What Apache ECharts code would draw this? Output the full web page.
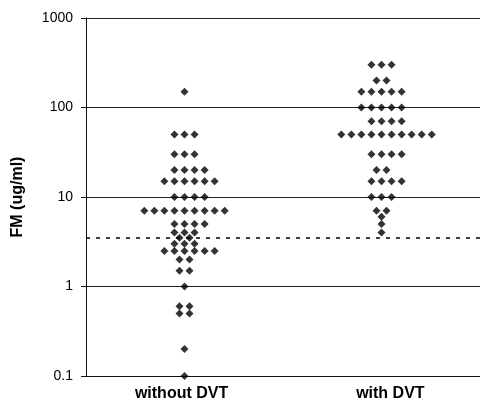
<!DOCTYPE html>
<html>
<head>
<meta charset="utf-8">
<script src="https://cdn.jsdelivr.net/npm/echarts@6/dist/echarts.min.js"></script>
<style>
html,body{margin:0;padding:0;background:#fff;}
#chart{width:480px;height:412px;}
</style>
</head>
<body>
<div id="chart"></div>
<script>
var categories = ['without DVT', 'with DVT'];
var yTicks = [0.1, 1, 10, 100, 1000];
var cutoff = 3.5;
// each row: value and number of dots at that value
var withoutValues = [150, 50, 30, 20, 15, 10, 7, 5, 4, 3.5, 3, 2.5, 2, 1.5, 1, 0.6, 0.5, 0.2, 0.1];
var withoutCounts = [1, 3, 3, 4, 6, 4, 9, 4, 3, 2, 3, 6, 2, 2, 1, 2, 2, 1, 1];
var withValues = [300, 200, 150, 100, 70, 50, 30, 20, 15, 10, 7, 6, 5, 4];
var withCounts = [3, 2, 5, 5, 4, 10, 4, 2, 4, 3, 2, 1, 1, 1];

var dx = 0.102;
function buildPoints(center, values, counts) {
  var pts = [];
  for (var i = 0; i < values.length; i++) {
    var n = counts[i];
    var start = (n === 2) ? -0.5 : -Math.floor((n - 1) / 2);
    for (var k = 0; k < n; k++) {
      pts.push([center + (start + k) * dx, values[i]]);
    }
  }
  return pts;
}

var labelPos = [0.97, 3.09];
var chart = echarts.init(document.getElementById('chart'));
chart.setOption({
  animation: false,
  backgroundColor: '#fff',
  grid: {left: 86, right: 0, top: 18, bottom: 36},
  xAxis: {
    type: 'value', min: 0, max: 4,
    axisLine: {show: true, lineStyle: {color: '#111', width: 1}},
    axisTick: {show: false},
    splitLine: {show: false},
    axisLabel: {
      margin: 10,
      customValues: labelPos,
      fontFamily: 'Liberation Sans, Arial, sans-serif',
      fontWeight: 'bold', fontSize: 16, color: '#000',
      formatter: function (v) {
        if (Math.abs(v - labelPos[0]) < 0.5) return categories[0];
        if (Math.abs(v - labelPos[1]) < 0.5) return categories[1];
        return '';
      }
    }
  },
  yAxis: {
    type: 'log', logBase: 10, min: yTicks[0], max: yTicks[yTicks.length - 1],
    name: 'FM (ug/ml)', nameLocation: 'middle', nameGap: 60,
    nameTextStyle: {fontFamily: 'Liberation Sans, Arial, sans-serif', fontWeight: 'bold', fontSize: 16, color: '#000'},
    axisLine: {show: true, lineStyle: {color: '#111', width: 1}},
    axisTick: {show: true, length: 5, lineStyle: {color: '#111'}},
    splitLine: {show: true, lineStyle: {color: '#222', width: 1}},
    axisLabel: {
      margin: 13, fontFamily: 'Liberation Sans, Arial, sans-serif', fontSize: 14, color: '#000',
      formatter: function (v) { return String(v); }
    }
  },
  series: [{
    type: 'scatter',
    symbol: 'diamond', symbolSize: [8, 8],
    itemStyle: {color: '#000'},
    data: buildPoints(1, withoutValues, withoutCounts).concat(buildPoints(3, withValues, withCounts)),
    markLine: {
      silent: true, symbol: 'none', label: {show: false},
      lineStyle: {color: '#000', type: [4, 6], width: 1.5},
      data: [{yAxis: cutoff}]
    }
  }]
});
</script>
</body>
</html>
